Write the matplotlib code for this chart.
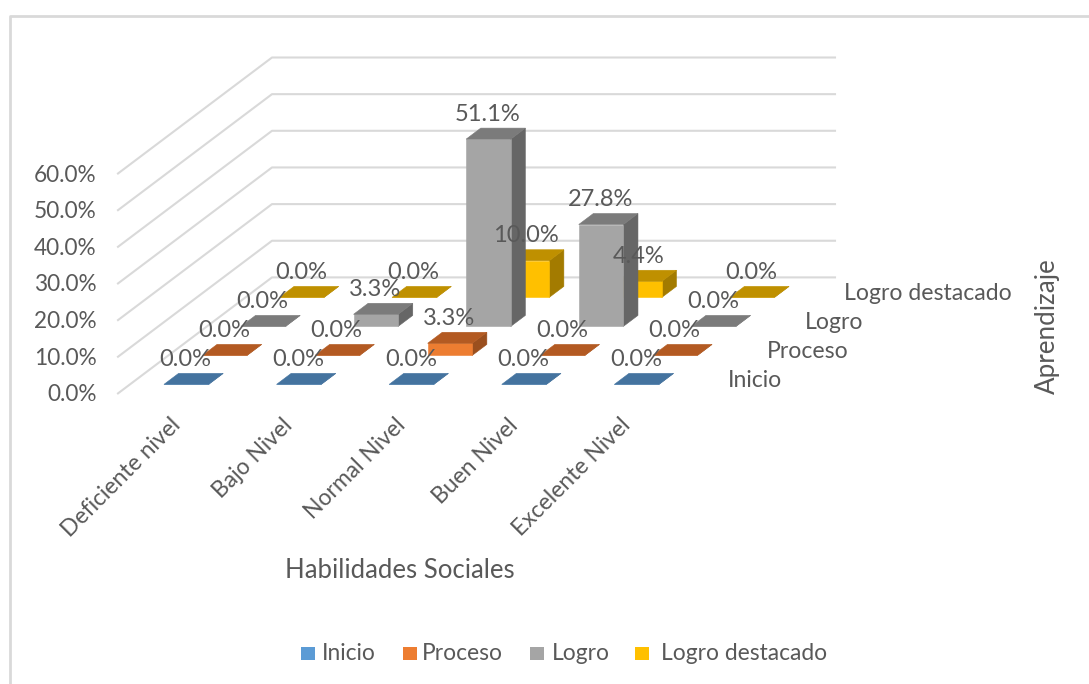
import matplotlib
matplotlib.use('Agg')
from matplotlib import pyplot as plt
from matplotlib.patches import Polygon, Rectangle

plt.rcParams['font.family'] = ['Lato', 'DejaVu Sans']

categories = ['Deficiente nivel', 'Bajo Nivel', 'Normal Nivel', 'Buen Nivel', 'Excelente Nivel']
series_names = ['Inicio', 'Proceso', 'Logro', 'Logro destacado']
inicio = [0.0, 0.0, 0.0, 0.0, 0.0]
proceso = [0.0, 0.0, 3.3, 0.0, 0.0]
logro = [0.0, 3.3, 51.1, 27.8, 0.0]
logro_destacado = [0.0, 0.0, 10.0, 4.4, 0.0]
y_ticks = [0, 10, 20, 30, 40, 50, 60]

series_values = [inicio, proceso, logro, logro_destacado]

# front, top and side colour of each series
front_colors = ['#5B9BD5', '#ED7D31', '#A5A5A5', '#FFC000']
top_colors = ['#44739F', '#B35A22', '#7B7B7B', '#BF9000']
side_colors = ['#366088', '#9A4F1E', '#666666', '#A37B00']
text_color = '#595959'
grid_color = '#D9D9D9'

# Oblique projection of the 3D chart, in pixels
X0, Y0 = 118, 393.4
CAT_W = 112.6
DEPTH_X, DEPTH_Y = 38.5, 29
VAL_H = 3.665
BAR_W = 0.396
BAR_D = 0.38


def project(cat, depth, value):
    return (X0 + CAT_W * cat + DEPTH_X * depth, Y0 - DEPTH_Y * depth - VAL_H * value)


fig = plt.figure(figsize=(10.89, 6.84), dpi=100)
ax = fig.add_axes([0, 0, 1, 1])
ax.set_xlim(0, 1089)
ax.set_ylim(684, 0)
ax.axis('off')

# chart frame
ax.plot([10, 10, 1089], [684, 15.5, 15.5], color=grid_color, lw=2, zorder=1)

# gridlines
n_cat = len(categories)
n_ser = len(series_names)
for t in y_ticks:
    a = project(0, 0, t)
    b = project(0, n_ser, t)
    c = project(n_cat, n_ser, t)
    ax.plot([a[0], b[0], c[0]], [a[1], b[1], c[1]], color=grid_color, lw=1.5, zorder=1)
    ax.text(a[0] - 21.5, a[1] + 1.5, '%.1f%%' % t, ha='right', va='center', fontsize=16.3,
            color=text_color, zorder=50)

# bars, back row first
z = 2
for s in range(n_ser - 1, -1, -1):
    for c in range(n_cat):
        v = series_values[s][c]
        x0 = c + (1 - BAR_W) / 2
        x1 = x0 + BAR_W
        d0 = s + (1 - BAR_D) / 2
        d1 = d0 + BAR_D
        front = [project(x0, d0, 0), project(x1, d0, 0), project(x1, d0, v), project(x0, d0, v)]
        top = [project(x0, d0, v), project(x1, d0, v), project(x1, d1, v), project(x0, d1, v)]
        side = [project(x1, d0, 0), project(x1, d1, 0), project(x1, d1, v), project(x1, d0, v)]
        for pts, col in [(side, side_colors[s]), (front, front_colors[s]), (top, top_colors[s])]:
            ax.add_patch(Polygon(pts, closed=True, facecolor=col, edgecolor=col, lw=0.4, zorder=z))
        z += 1
        lx, ly = project(x0 + BAR_W / 2, d0 + BAR_D / 2, v)
        ax.text(lx - 8, ly - 19.5, '%.1f%%' % v, ha='center', va='center', fontsize=17,
                color=text_color, zorder=50)

# category labels
for c, name in enumerate(categories):
    x, y = project(c + 0.5, 0, 0)
    ax.text(x - 5, y + 21, name, rotation=45, ha='right', va='top', rotation_mode='anchor',
            fontsize=16.5, color=text_color, zorder=50)

# series labels on the depth axis
for s, name in enumerate(series_names):
    x, y = project(n_cat, s + 0.5, 0)
    ax.text(x + 28, y + 1.5, name, ha='left', va='center', fontsize=16.6, color=text_color, zorder=50)

ax.text(399.5, 570, 'Habilidades Sociales', ha='center', va='center', fontsize=18.5, color=text_color)
ax.text(1047, 326.5, 'Aprendizaje', ha='center', va='center', rotation=90, fontsize=18.7, color=text_color)

# legend
legend_x = [301, 403, 530, 635]
legend_text_x = [322, 422, 552, 661]
for x, tx, name, col in zip(legend_x, legend_text_x, series_names, front_colors):
    ax.add_patch(Rectangle((x, 646.5), 13.5, 13.5, facecolor=col, edgecolor='none'))
    ax.text(tx, 653, name, ha='left', va='center', fontsize=16.4, color=text_color)

fig.savefig('out.png', dpi=100, facecolor='white')
